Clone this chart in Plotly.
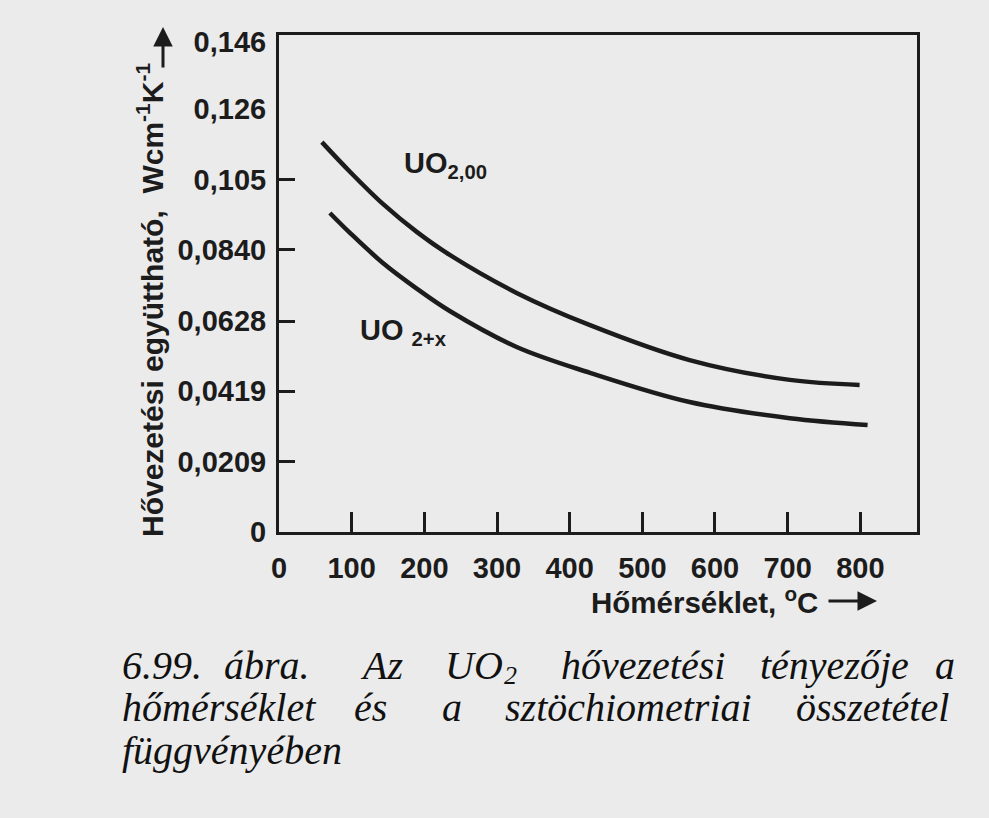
import plotly.graph_objects as go

# ---- data ----
T_uo200 = [59, 98, 143, 190, 235, 327, 428, 565, 703, 799]
k_uo200 = [0.1161, 0.1072, 0.0977, 0.0893, 0.0825, 0.0712, 0.0616, 0.0512, 0.0453, 0.0438]
T_uo2x = [70, 98, 143, 190, 235, 327, 428, 565, 703, 810]
k_uo2x = [0.0950, 0.0890, 0.0801, 0.0724, 0.0658, 0.0551, 0.0474, 0.0387, 0.0339, 0.0319]

y_tickvals = [0, 0.0209, 0.0419, 0.0628, 0.0840, 0.105, 0.126, 0.146]
y_ticktext = ["0", "0,0209", "0,0419", "0,0628", "0,0840", "0,105", "0,126", "0,146"]
y_tickmarks = [0.0209, 0.0419, 0.0628, 0.0840, 0.105]
x_tickvals = [0, 100, 200, 300, 400, 500, 600, 700, 800]
x_tickmarks = [100, 200, 300, 400, 500, 600, 700, 800]

caption_lines = [
    ["6.99.", "ábra.", "Az", "UO", "hővezetési", "tényezője", "a"],
    ["hőmérséklet", "és", "a", "sztöchiometriai", "összetétel"],
    ["függvényében"],
]

# ---- layout helpers ----
W, H = 989, 818
L, R, T, B = 279, 917, 35, 532
INK = "#1c1c1c"
BG = "#ebebeb"
SANS = "Liberation Sans, Arial, sans-serif"
SERIF = "Liberation Serif, Times New Roman, serif"


def px(x):
    return (x - L) / (R - L)


def py(y):
    return (B - y) / (B - T)


fig = go.Figure()
for xs, ys in ((T_uo200, k_uo200), (T_uo2x, k_uo2x)):
    fig.add_trace(go.Scatter(x=xs, y=ys, mode="lines",
                             line=dict(color=INK, width=4.5, shape="spline", smoothing=1.0),
                             showlegend=False, hoverinfo="skip"))
# invisible trace bound to tick-mark axes
fig.add_trace(go.Scatter(x=[0], y=[0], xaxis="x2", yaxis="y2", mode="markers",
                         marker=dict(opacity=0), showlegend=False, hoverinfo="skip"))

tickfont = dict(family=SANS, size=29, color=INK, weight="bold")
xr = [0, 878]
yr = [0, 0.148]
fig.update_layout(
    width=W, height=H,
    margin=dict(l=L, r=W - R, t=T, b=H - B, pad=0),
    paper_bgcolor=BG, plot_bgcolor=BG,
    font=dict(family=SANS, color=INK),
    xaxis=dict(range=xr, tickvals=x_tickvals, ticktext=[str(v) for v in x_tickvals],
               ticks="", showgrid=False, zeroline=False, showline=True, linecolor=INK,
               linewidth=3, mirror=True, tickfont=tickfont, ticklabelstandoff=8),
    yaxis=dict(range=yr, tickvals=y_tickvals, ticktext=y_ticktext,
               ticks="", showgrid=False, zeroline=False, showline=True, linecolor=INK,
               linewidth=3, mirror=True, tickfont=tickfont, ticklabelstandoff=4),
    xaxis2=dict(range=xr, overlaying="x", tickvals=x_tickmarks, showticklabels=False,
                ticks="inside", ticklen=20, tickwidth=2.5, tickcolor=INK,
                showgrid=False, zeroline=False, showline=False),
    yaxis2=dict(range=yr, overlaying="y", tickvals=y_tickmarks, showticklabels=False,
                ticks="inside", ticklen=16, tickwidth=2.5, tickcolor=INK,
                showgrid=False, zeroline=False, showline=False),
)

ann = []
# curve labels
ann.append(dict(x=169, y=0.1093, xref="x", yref="y", xanchor="left", yanchor="middle",
                text="<b>UO<sub>2,00</sub></b>", showarrow=False,
                font=dict(family=SANS, size=29, color=INK)))
ann.append(dict(x=109, y=0.0596, xref="x", yref="y", xanchor="left", yanchor="middle",
                text="<b>UO <sub>2+x</sub></b>", showarrow=False,
                font=dict(family=SANS, size=29, color=INK)))
# axis titles
ann.append(dict(x=px(150), y=py(300), xref="paper", yref="paper", xanchor="center",
                yanchor="middle", textangle=-90, showarrow=False,
                text="<b>Hővezetési együttható,&nbsp;&nbsp;Wcm<sup>-1</sup>K<sup>-1</sup></b>",
                font=dict(family=SANS, size=30, color=INK)))
ann.append(dict(x=px(163), y=py(27), xref="paper", yref="paper", ax=0, ay=42,
                text="", showarrow=True, arrowhead=2, arrowsize=1.3, arrowwidth=3,
                arrowcolor=INK))
ann.append(dict(x=px(589), y=py(600), xref="paper", yref="paper", xanchor="left",
                yanchor="middle", showarrow=False,
                text="<b>Hőmérséklet, <sup>o</sup>C</b>",
                font=dict(family=SANS, size=29.5, color=INK)))
ann.append(dict(x=px(877), y=py(601), xref="paper", yref="paper", ax=-50, ay=0,
                text="", showarrow=True, arrowhead=2, arrowsize=1.3, arrowwidth=3,
                arrowcolor=INK))

# caption (justified words)
CAP = "#111111"
word_x = [
    [120, 222, 358, 443, 559, 758, 933],
    [120, 352, 440, 503, 794],
    [120],
]
line_y = [665, 707, 750]
for words, xs, yy in zip(caption_lines, word_x, line_y):
    for w, xx in zip(words, xs):
        ann.append(dict(x=px(xx), y=py(yy), xref="paper", yref="paper", xanchor="left",
                        yanchor="middle", showarrow=False, text="<i>" + w + "</i>",
                        font=dict(family=SERIF, size=40, color=CAP)))
# subscript 2 of "UO2" in the caption
ann.append(dict(x=px(502), y=py(675), xref="paper", yref="paper", xanchor="left",
                yanchor="middle", showarrow=False, text="<i>2</i>",
                font=dict(family=SERIF, size=26, color=CAP)))

fig.update_layout(annotations=ann)
fig.write_html("out.html")
